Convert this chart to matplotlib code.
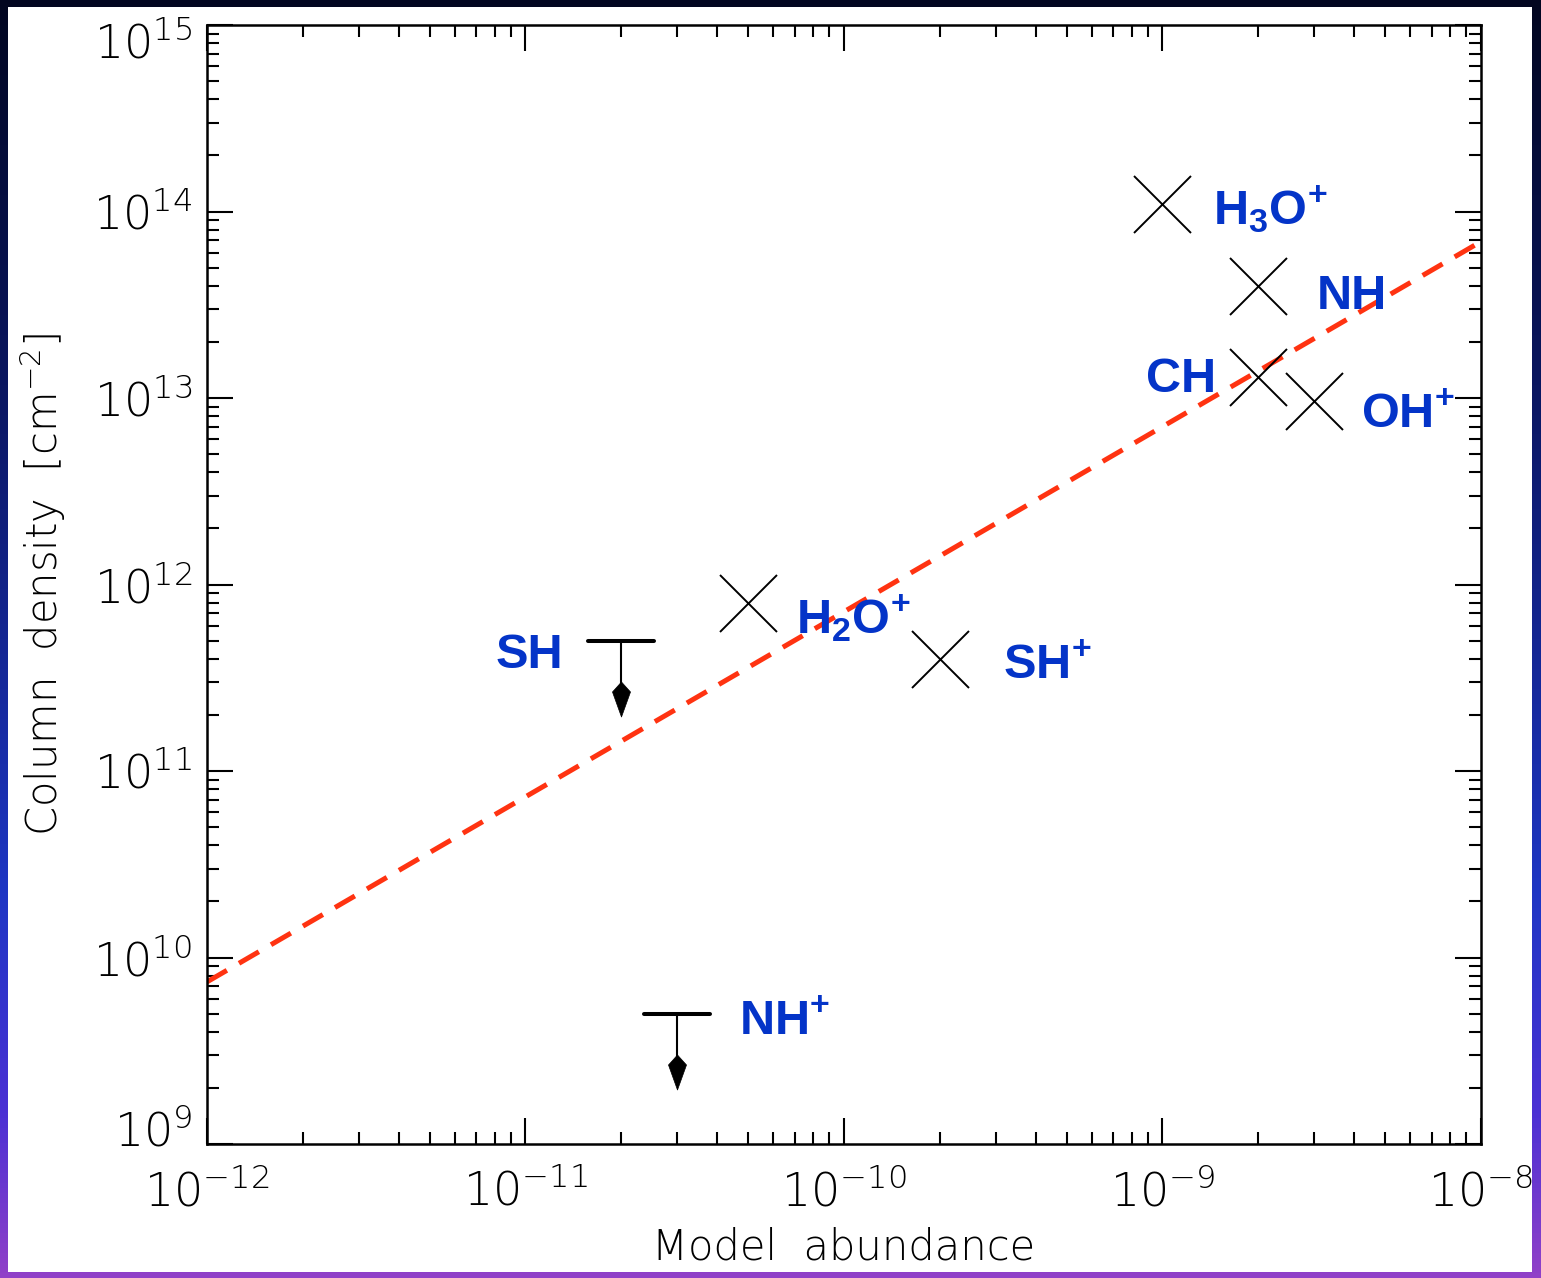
import numpy as np
import matplotlib
matplotlib.use("Agg")
import matplotlib.pyplot as plt
from matplotlib.patches import Rectangle
from matplotlib.path import Path
from matplotlib.markers import MarkerStyle
from matplotlib.colors import LinearSegmentedColormap
from matplotlib.ticker import LogLocator, FuncFormatter, NullFormatter
from matplotlib.transforms import ScaledTranslation

plt.rcParams['font.family'] = 'DejaVu Sans'
plt.rcParams['mathtext.fontset'] = 'custom'
plt.rcParams['mathtext.rm'] = 'DejaVu Sans:extralight'
plt.rcParams['mathtext.bf'] = 'Liberation Sans:bold'

###################################
# detections: model abundance vs observed column density
det_names = [r"H$_\mathbf{3}$O$^\mathbf{+}$", "NH", "CH", r"OH$^\mathbf{+}$",
             r"H$_\mathbf{2}$O$^\mathbf{+}$", r"SH$^\mathbf{+}$"]
det_abund = [1e-9, 2e-9, 2e-9, 3e-9, 5e-11, 2e-10]
det_col = [1.1e14, 4e13, 1.3e13, 9.6e12, 8e11, 4e11]

# upper limits
lim_names = ["SH", r"NH$^\mathbf{+}$"]
lim_abund = [2e-11, 3e-11]
lim_col = [5e11, 5e9]

# fitted relation (dashed line), read at the axis ends
fit_abund = [1e-12, 1e-8]
fit_col = [7.4e9, 6.9e13]

# label offsets in pixels (dx, dy, ha)
det_offsets = [(51, -21, 'left'), (58, -23, 'left'), (-42, -15, 'right'),
               (47, -27, 'left'), (48, -31, 'left'), (63, -20, 'left')]
lim_offsets = [(-58, -27, 'right'), (62, -21, 'left')]
###################################

W, H = 1541, 1278
fig = plt.figure(figsize=(W / 100, H / 100), dpi=100)

# gradient frame around the plot
cmap = LinearSegmentedColormap.from_list(
    "frame", [(0, '#020620'), (0.3, '#0a1660'), (0.7, '#1e36c4'),
              (0.87, '#4a30d4'), (1.0, '#9040c8')])
grad = cmap(np.linspace(0, 1, H))[:, :3]
img = np.broadcast_to(grad[:, None, :], (H, W, 3)).copy()
fig.figimage(img, xo=0, yo=0, origin='upper', zorder=-3)
fig.add_artist(Rectangle((8 / W, 6 / H), (1532 - 8) / W, (1272 - 7) / H,
                         transform=fig.transFigure, fc='white', ec='none',
                         zorder=-2))

ax = fig.add_axes([207 / W, (H - 1144) / H, 1274 / W, 1119 / H])
ax.set_xscale('log')
ax.set_yscale('log')
ax.set_xlim(1e-12, 1e-8)
ax.set_ylim(1e9, 1e15)

blue = '#0434c8'
px = 0.72  # points per pixel

# dashed fit line
ax.plot(fit_abund, fit_col, color='#ff3311', lw=3.6, dashes=(4.6, 2.8),
        dash_capstyle='butt', zorder=2)

# detections
ax.plot(det_abund, det_col, ls='none', marker='x', ms=57 * px,
        mew=1.4, color='black', zorder=3)
for name, x, y, (dx, dy, ha) in zip(det_names, det_abund, det_col, det_offsets):
    ax.annotate(name, (x, y), xytext=(dx * px, dy * px),
                textcoords='offset points', ha=ha, va='baseline',
                fontsize=35, color=blue, family='Liberation Sans',
                fontweight='bold')

# upper limits: bar, stem and kite-shaped arrow head
kite = Path([(0, 17.5), (9, 7.5), (0, -17.5), (-9, 7.5), (0, 17.5)],
            [Path.MOVETO, Path.LINETO, Path.LINETO, Path.LINETO, Path.CLOSEPOLY])
bar = MarkerStyle('_', capstyle='round')
lim_abund = np.array(lim_abund)
lim_col = np.array(lim_col)
head_col = lim_col * 10 ** (-0.314)
for x, y, hy in zip(lim_abund, lim_col, head_col):
    ax.plot([x, x], [y, hy], color='black', lw=1.5, zorder=3)
ax.plot(lim_abund, lim_col, ls='none', marker=bar, ms=66 * px, mew=2.9,
        color='black', zorder=4)
ax.plot(lim_abund, head_col, ls='none', marker=kite, ms=35 * px,
        color='black', mec='black', mew=0.5, zorder=4)
for name, x, y, (dx, dy, ha) in zip(lim_names, lim_abund, lim_col, lim_offsets):
    ax.annotate(name, (x, y), xytext=(dx * px, dy * px),
                textcoords='offset points', ha=ha, va='baseline',
                fontsize=35, color=blue, family='Liberation Sans',
                fontweight='bold')

# axes styling
for s in ax.spines.values():
    s.set_linewidth(1.8)
ax.xaxis.set_major_locator(LogLocator(base=10, numticks=10))
ax.yaxis.set_major_locator(LogLocator(base=10, numticks=10))
ax.xaxis.set_minor_locator(LogLocator(base=10, subs=np.arange(2, 10), numticks=20))
ax.yaxis.set_minor_locator(LogLocator(base=10, subs=np.arange(2, 10), numticks=20))
fmt = FuncFormatter(lambda v, p: r"$\mathrm{10^{%d}}$" % round(np.log10(v)))
ax.xaxis.set_major_formatter(fmt)
ax.yaxis.set_major_formatter(fmt)
ax.xaxis.set_minor_formatter(NullFormatter())
ax.yaxis.set_minor_formatter(NullFormatter())
ax.tick_params(which='both', direction='in', top=True, right=True, width=1.5)
ax.tick_params(which='major', length=26 * px, labelsize=33)
ax.tick_params(which='minor', length=12 * px)
ax.tick_params(axis='y', pad=15 * px)
ax.tick_params(axis='x', pad=26 * px)

ax.set_xlabel("Model  abundance", fontsize=30, va='baseline', fontweight=200)
ax.xaxis.set_label_coords(0.5, (1144 - 1260) / 1119)
ax.set_ylabel(r"Column  density  [cm$^{-2}$]", fontsize=30, va='center',
              fontweight=200)
ax.yaxis.set_label_coords((43 - 207) / 1274, 0.5)

# IDL-style nudge of the end labels on the y axis
fig.canvas.draw()
for t in ax.yaxis.get_major_ticks():
    loc = t.get_loc()
    if np.isclose(loc, 1e15):
        t.label1.set_transform(t.label1.get_transform()
                               + ScaledTranslation(0, -16 / 100, fig.dpi_scale_trans))
    elif np.isclose(loc, 1e9):
        t.label1.set_transform(t.label1.get_transform()
                               + ScaledTranslation(0, 16 / 100, fig.dpi_scale_trans))

fig.savefig("out.png", dpi=100)
